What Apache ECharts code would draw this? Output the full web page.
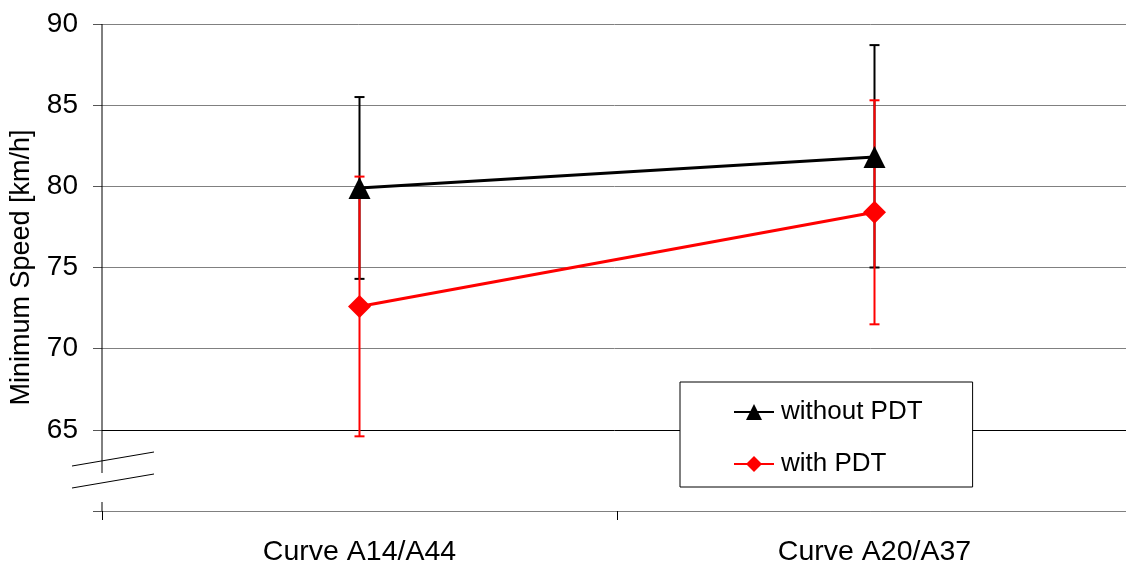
<!DOCTYPE html>
<html><head><meta charset="utf-8">
<script src="https://cdn.jsdelivr.net/npm/echarts@6/dist/echarts.min.js"></script>
<style>html,body{margin:0;padding:0;background:#fff}#c{width:1126px;height:565px}</style>
</head><body><div id="c"></div>
<script>
const categories = ['Curve A14/A44', 'Curve A20/A37'];
const withoutPDT = [79.9, 81.8];
const withoutPDTLow = [74.3, 75.0];
const withoutPDTHigh = [85.5, 88.7];
const withPDT = [72.6, 78.4];
const withPDTLow = [64.6, 71.5];
const withPDTHigh = [80.6, 85.3];
const yMin = 60, yMax = 90, yStep = 5;

const FONT = "'Liberation Sans', Arial, sans-serif";
const chart = echarts.init(document.getElementById('c'), null, {renderer: 'canvas'});

function errRender(color) {
  return function (params, api) {
    const x = api.value(0);
    const lo = api.coord([x, api.value(1)]);
    const hi = api.coord([x, api.value(2)]);
    const w = 5;
    const st = {stroke: color, lineWidth: 2};
    return {type: 'group', children: [
      {type: 'line', shape: {x1: lo[0], y1: lo[1], x2: hi[0], y2: hi[1]}, style: st},
      {type: 'line', shape: {x1: lo[0] - w, y1: lo[1], x2: lo[0] + w, y2: lo[1]}, style: st},
      {type: 'line', shape: {x1: hi[0] - w, y1: hi[1], x2: hi[0] + w, y2: hi[1]}, style: st}
    ]};
  };
}

const gridColors = [];
for (let v = yMin; v <= yMax; v += yStep) gridColors.push(v === 65 ? '#000' : '#808080');

chart.setOption({
  animation: false,
  backgroundColor: '#fff',
  grid: {left: 102, right: -6, top: 24, bottom: 54, containLabel: false, outerBoundsMode: 'none'},
  legend: {
    orient: 'vertical', left: 680, top: 382,
    padding: [17, 50, 10, 53], itemGap: 26,
    itemWidth: 40, itemHeight: 20,
    borderColor: '#000', borderWidth: 1, backgroundColor: '#fff',
    textStyle: {fontFamily: FONT, fontSize: 26, color: '#000', padding: [0, 0, 0, 2]},
    data: ['without PDT', 'with PDT']
  },
  xAxis: {
    type: 'category', data: categories, boundaryGap: true,
    axisLine: {show: true, lineStyle: {color: '#808080', width: 1}},
    axisTick: {show: true, length: 9, lineStyle: {color: '#000'}},
    axisLabel: {fontFamily: FONT, fontSize: 28.5, color: '#000', margin: 27},
    splitLine: {show: false}
  },
  yAxis: {
    type: 'value', min: yMin, max: yMax, interval: yStep,
    name: 'Minimum Speed [km/h]', nameLocation: 'middle', nameRotate: 90, nameGap: 67,
    nameTextStyle: {fontFamily: FONT, fontSize: 27, color: '#000'},
    axisLine: {show: false},
    axisTick: {show: true, length: 9, lineStyle: {color: '#555'}},
    axisLabel: {fontFamily: FONT, fontSize: 28, color: '#000', margin: 24,
      formatter: v => (v === yMin ? '' : String(v))},
    splitLine: {show: true, lineStyle: {color: gridColors, width: 1}}
  },
  series: [
    {type: 'custom', name: 'errBlack', renderItem: errRender('#000'), z: 3,
      data: withoutPDT.map((v, i) => [i, withoutPDTLow[i], withoutPDTHigh[i]]),
      encode: {x: 0, y: [1, 2]}, silent: true},
    {type: 'custom', name: 'errRed', renderItem: errRender('#ff0000'), z: 4,
      data: withPDT.map((v, i) => [i, withPDTLow[i], withPDTHigh[i]]),
      encode: {x: 0, y: [1, 2]}, silent: true},
    {type: 'line', name: 'without PDT', data: withoutPDT, z: 5,
      symbol: 'triangle', symbolSize: 22, showAllSymbol: true,
      lineStyle: {color: '#000', width: 3}, itemStyle: {color: '#000'}},
    {type: 'line', name: 'with PDT', data: withPDT, z: 6,
      symbol: 'diamond', symbolSize: 23, showAllSymbol: true,
      lineStyle: {color: '#ff0000', width: 3}, itemStyle: {color: '#ff0000'}}
  ]
});

// axis line with break marks
const c0 = chart.convertToPixel({xAxisIndex: 0}, categories[0]);
const c1 = chart.convertToPixel({xAxisIndex: 0}, categories[1]);
const ax = c0 - (c1 - c0) / 2;
const yTop = chart.convertToPixel({yAxisIndex: 0}, yMax);
const yBot = chart.convertToPixel({yAxisIndex: 0}, yMin);
const ls = {stroke: '#000', lineWidth: 1};
chart.setOption({
  graphic: [
    {type: 'line', z: 10, shape: {x1: ax, y1: yTop, x2: ax, y2: yBot - 38}, style: ls},
    {type: 'line', z: 10, shape: {x1: ax, y1: yBot - 9, x2: ax, y2: yBot}, style: ls},
    {type: 'line', z: 10, shape: {x1: ax - 30, y1: yBot - 45, x2: ax + 52, y2: yBot - 59}, style: ls},
    {type: 'line', z: 10, shape: {x1: ax - 30, y1: yBot - 23, x2: ax + 52, y2: yBot - 37}, style: ls}
  ]
});
</script></body></html>
